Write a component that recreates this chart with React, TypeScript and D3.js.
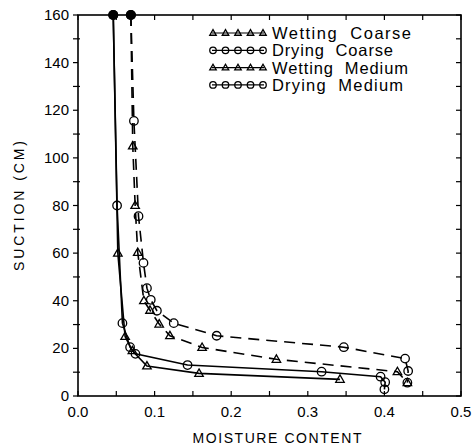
import React from "react";
import * as d3 from "d3";

// [moisture content, suction (cm)]
const wettingCoarse: [number, number][] = [
  [0.046, 160], [0.052, 60], [0.0615, 25], [0.071, 19], [0.09, 12.6], [0.158, 9.5], [0.342, 7.0],
];
const dryingCoarse: [number, number][] = [
  [0.046, 160], [0.051, 80], [0.058, 30.6], [0.068, 20.5], [0.075, 17.7], [0.143, 13],
  [0.318, 10.2], [0.395, 8.1], [0.401, 5.8], [0.4, 2.8],
];
const wettingMedium: [number, number][] = [
  [0.069, 160], [0.0715, 105], [0.0746, 80], [0.078, 60.3], [0.086, 40], [0.094, 36],
  [0.106, 30.2], [0.12, 25.3], [0.162, 20.4], [0.259, 15.4], [0.417, 10.2], [0.43, 5.6],
];
const dryingMedium: [number, number][] = [
  [0.069, 160], [0.073, 115.5], [0.079, 75.5], [0.0855, 55.9], [0.09, 45.3], [0.095, 40.4],
  [0.103, 35.8], [0.125, 30.6], [0.181, 25.3], [0.347, 20.5], [0.427, 15.7], [0.431, 10.5], [0.43, 5.6],
];

const xTickLabels = [0, 0.1, 0.2, 0.3, 0.4, 0.5];
const yTickLabels = [0, 20, 40, 60, 80, 100, 120, 140, 160];
const legendNames = ["Wetting  Coarse", "Drying  Coarse", "Wetting  Medium", "Drying  Medium"];
const legendWidths = [139, 121, 136, 131];

const W = 473;
const H = 445;
const FONT = "'Liberation Sans', Arial, sans-serif";

const x = d3.scaleLinear().domain([0, 0.5]).range([78, 461]);
const y = d3.scaleLinear().domain([0, 160]).range([396, 15]);

const tri = (cx: number, cy: number, s: number) => {
  const h = s * 0.87;
  return `M${cx},${cy - h * 0.6}L${cx + s / 2},${cy + h * 0.4}L${cx - s / 2},${cy + h * 0.4}Z`;
};

const Marker = ({ kind, cx, cy, s }: { kind: string; cx: number; cy: number; s: number }) =>
  kind === "tri" ? (
    <path d={tri(cx, cy, s)} fill="none" stroke="#000" strokeWidth={1.3} />
  ) : (
    <circle cx={cx} cy={cy} r={s / 2} fill="none" stroke="#000" strokeWidth={1.3} />
  );

const series = [
  { data: wettingCoarse, kind: "tri", dash: null },
  { data: dryingCoarse, kind: "circ", dash: null },
  { data: wettingMedium, kind: "tri", dash: "11,7" },
  { data: dryingMedium, kind: "circ", dash: "11,7" },
];

export default function App() {
  const line = d3
    .line<[number, number]>()
    .x((d) => x(d[0]))
    .y((d) => y(d[1]));

  const minorX = d3.range(0, 0.5001, 0.05);
  const minorY = d3.range(0, 160.1, 10);

  return (
    <svg width={W} height={H} style={{ position: "absolute", left: 0, top: 0, background: "#fff" }}>
      {/* frame */}
      <rect x={x(0)} y={y(160)} width={x(0.5) - x(0)} height={y(0) - y(160)} fill="none" stroke="#000" strokeWidth={1.6} />
      {minorX.map((t, i) => (
        <g key={`xt${i}`} stroke="#000" strokeWidth={1.2}>
          <line x1={x(t)} x2={x(t)} y1={y(0)} y2={y(0) - 5} />
          <line x1={x(t)} x2={x(t)} y1={y(160)} y2={y(160) + 5} />
        </g>
      ))}
      {minorY.map((t, i) => (
        <g key={`yt${i}`} stroke="#000" strokeWidth={1.2}>
          <line x1={x(0) - 5} x2={x(0) + (t % 20 ? 2 : 0)} y1={y(t)} y2={y(t)} />
          <line x1={x(0.5)} x2={x(0.5) - 5} y1={y(t)} y2={y(t)} />
        </g>
      ))}
      {xTickLabels.map((t) => (
        <text key={`xl${t}`} x={x(t)} y={417} textAnchor="middle" fontFamily={FONT} fontSize={15}>
          {t.toFixed(1)}
        </text>
      ))}
      {yTickLabels.map((t) => (
        <text key={`yl${t}`} x={69} y={y(t) + 5} textAnchor="end" fontFamily={FONT} fontSize={15}>
          {t}
        </text>
      ))}
      <text x={277} y={443} textAnchor="middle" fontFamily={FONT} fontSize={14} textLength={169} lengthAdjust="spacing">
        MOISTURE CONTENT
      </text>
      <text
        transform={`translate(24,206) rotate(-90)`}
        textAnchor="middle"
        fontFamily={FONT}
        fontSize={14}
        textLength={130}
        lengthAdjust="spacing"
      >
        SUCTION (CM)
      </text>

      {/* curves */}
      {series.map((s, i) => (
        <path
          key={`l${i}`}
          d={line(s.data) || ""}
          fill="none"
          stroke="#000"
          strokeWidth={1.6}
          strokeDasharray={s.dash || undefined}
        />
      ))}
      {series.map((s, i) =>
        s.data.map((d, j) =>
          d[1] >= 160 ? (
            <circle key={`m${i}-${j}`} cx={x(d[0])} cy={y(d[1])} r={5} fill="#000" />
          ) : (
            <Marker key={`m${i}-${j}`} kind={s.kind} cx={x(d[0])} cy={y(d[1])} s={8.5} />
          )
        )
      )}

      {/* legend */}
      {legendNames.map((name, i) => {
        const ly = 33 + i * 17.3;
        const kind = i % 2 === 0 ? "tri" : "circ";
        return (
          <g key={`lg${i}`}>
            <line x1={212} x2={264} y1={ly} y2={ly} stroke="#000" strokeWidth={1.2} />
            {d3.range(5).map((k) => (
              <Marker key={k} kind={kind} cx={213 + k * 12.5} cy={ly} s={6.5} />
            ))}
            <text
              x={272}
              y={ly + 6}
              fontFamily={FONT}
              fontSize={16.5}
              textLength={legendWidths[i]}
              lengthAdjust="spacing"
              style={{ whiteSpace: "pre" }}
            >
              {name}
            </text>
          </g>
        );
      })}
    </svg>
  );
}
